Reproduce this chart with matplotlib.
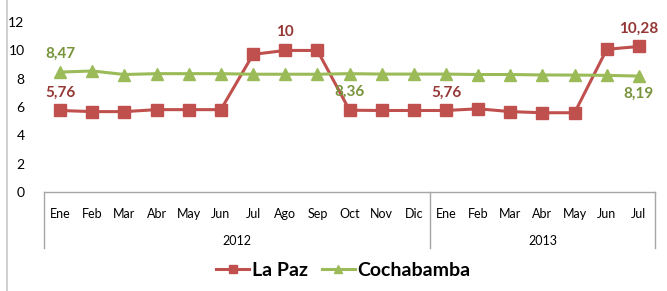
# precio La Paz vs Cochabamba, 2012-2013
import matplotlib.pyplot as plt
from matplotlib.lines import Line2D

plt.rcParams['font.family'] = ['Lato', 'DejaVu Sans']

months = ["Ene", "Feb", "Mar", "Abr", "May", "Jun", "Jul", "Ago", "Sep", "Oct", "Nov", "Dic",
          "Ene", "Feb", "Mar", "Abr", "May", "Jun", "Jul"]
years = ["2012", "2013"]
year_sizes = [12, 7]

la_paz = [5.76, 5.68, 5.68, 5.82, 5.82, 5.82, 9.72, 10.0, 10.0, 5.78, 5.76, 5.76,
          5.76, 5.88, 5.68, 5.6, 5.6, 10.08, 10.28]
cochabamba = [8.47, 8.55, 8.3, 8.36, 8.36, 8.36, 8.32, 8.32, 8.32, 8.36, 8.33, 8.33,
              8.33, 8.3, 8.3, 8.27, 8.26, 8.24, 8.19]

# (serie, indice, texto, arriba?)
labels = [("lp", 0, "5,76", True), ("lp", 7, "10", True), ("lp", 12, "5,76", True),
          ("lp", 18, "10,28", True), ("cb", 0, "8,47", True), ("cb", 9, "8,36", False),
          ("cb", 18, "8,19", False)]

RED = "#C0504D"
RED_TXT = "#953735"
GREEN = "#9BBB59"
GREEN_TXT = "#77933C"
AXIS = "#A6A6A6"

fig = plt.figure(figsize=(6.67, 2.91), dpi=100)
ax = fig.add_axes([0.066, 0.340, 0.916, 0.584])

x = list(range(len(months)))
lp_line, = ax.plot(x, la_paz, color=RED, lw=2.2, marker="s", ms=8, label="La Paz", clip_on=False)
cb_line, = ax.plot(x, cochabamba, color=GREEN, lw=2.2, marker="^", ms=8, label="Cochabamba", clip_on=False)

for serie, i, txt, up in labels:
    data = la_paz if serie == "lp" else cochabamba
    col = RED_TXT if serie == "lp" else GREEN_TXT
    off = 13 if up else -13
    ax.annotate(txt, (i, data[i]), xytext=(0, off), textcoords="offset points",
                ha="center", va="center", fontsize=11, fontweight="bold", color=col,
                annotation_clip=False)

ax.set_xlim(-0.5, len(months) - 0.5)
ax.set_ylim(0, 12)
ax.set_yticks(range(0, 13, 2))
ax.tick_params(axis="y", length=0, pad=14, labelsize=10)
ax.set_xticks([])
for s in ["top", "right", "left"]:
    ax.spines[s].set_visible(False)
ax.spines["bottom"].set_color(AXIS)
ax.spines["bottom"].set_linewidth(1)

# etiquetas de meses y años (eje de categorias en dos niveles)
for i, m in enumerate(months):
    ax.annotate(m, (i, 0), xycoords=("data", "axes fraction"), xytext=(0, -16),
                textcoords="offset points", ha="center", va="center", fontsize=9)

start = -0.5
bounds = [start]
for name, n in zip(years, year_sizes):
    ax.annotate(name, (start + n / 2, 0), xycoords=("data", "axes fraction"), xytext=(0, -35),
                textcoords="offset points", ha="center", va="center", fontsize=9)
    start += n
    bounds.append(start)

trans = ax.get_xaxis_transform()
for b in bounds:
    ax.plot([b, b], [0, -0.33], color=AXIS, lw=1, transform=trans, clip_on=False)

leg = fig.legend(handles=[lp_line, cb_line], loc="center", bbox_to_anchor=(0.515, 0.07), ncol=2,
                 frameon=False, prop={"size": 14, "weight": "bold"}, handlelength=1.7,
                 columnspacing=0.7, handletextpad=0.15, markerscale=0.8)

# borde izquierdo del recorte
fig.add_artist(Line2D([0.011, 0.011], [0, 1], color="#C8C8C8", lw=1.2, transform=fig.transFigure))

fig.savefig("out.png", dpi=100)
